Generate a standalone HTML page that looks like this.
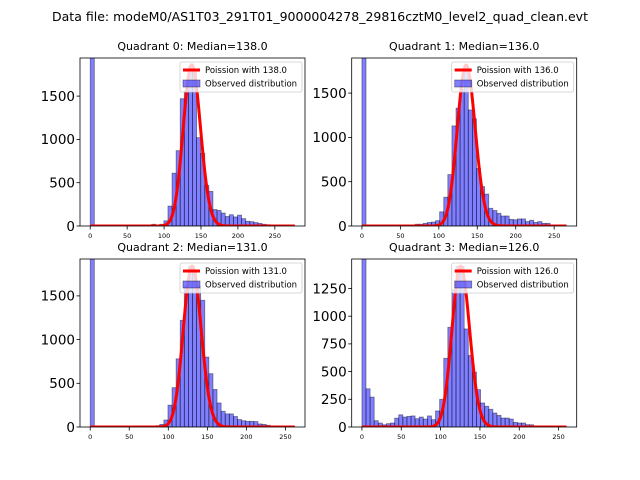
<!DOCTYPE html>
<html><head><meta charset="utf-8"><style>
html,body{margin:0;padding:0;background:#fff;}
svg{display:block;font-family:"DejaVu Sans","Liberation Sans",sans-serif;}
</style></head><body>
<svg id="fig" width="640" height="480" viewBox="0 0 640 480" xmlns="http://www.w3.org/2000/svg">
<rect width="640" height="480" fill="#fff"/>
<text x="320" y="21" font-size="12.5" text-anchor="middle" textLength="536" lengthAdjust="spacingAndGlyphs">Data file: modeM0/AS1T03_291T01_9000004278_29816cztM0_level2_quad_clean.evt</text>
</svg>
<script>
const titles = ["Quadrant 0: Median=138.0","Quadrant 1: Median=136.0","Quadrant 2: Median=131.0","Quadrant 3: Median=126.0"];
const medians = [138, 136, 131, 126];
const dataMax = [277, 266, 262, 260];
const curvePeak = [1860, 1816, 1840, 1450];
const yTop = [1940, 1896, 1922, 1516];
const q0Counts = [5000,0,0,0,0,0,0,0,0,0,0,0,0,0,10,20,10,20,60,230,610,870,1470,1560,1840,1800,1020,840,470,400,190,180,150,110,130,105,125,85,55,50,40,30,20,15,10,5,5,3,2,1];
const q1Counts = [5000,0,0,0,0,0,0,0,0,0,5,8,10,20,20,30,40,45,60,160,325,580,1130,1330,1540,1740,1310,1210,650,445,360,200,175,143,113,113,75,70,80,80,50,65,40,50,30,30,10,5,3,2];
const q2Counts = [5000,0,0,0,0,0,0,0,0,0,0,0,0,0,0,0,15,30,80,250,450,780,1220,1610,1840,1800,1610,1450,800,610,430,275,180,150,150,120,85,72,65,65,62,35,30,20,5,3,2,1,1,1];
const q3Counts = [5000,345,270,57,36,20,30,36,80,110,90,96,100,75,90,72,100,66,145,250,620,900,1240,1450,1450,885,645,495,337,217,187,160,126,105,81,81,72,42,36,36,21,20,10,8,5,4,3,2,1,1];
const countsAll = [q0Counts, q1Counts, q2Counts, q3Counts];
const xTicks = [0,50,100,150,200,250];
const yTicksA = [0,500,1000,1500];
const yTicksB = [0,250,500,750,1000,1250];
const yTicksAll = [yTicksA, yTicksA, yTicksA, yTicksB];

const NS = "http://www.w3.org/2000/svg";
const svg = document.getElementById('fig');
const boxes = [[80,58,305,226],[351.7,58,576.7,226],[80,259,305,427],[351.7,259,576.7,427]];
function mk(tag, attrs, parent){const e=document.createElementNS(NS,tag);for(const k in attrs)e.setAttribute(k,attrs[k]);(parent||svg).appendChild(e);return e;}
function lgamma(n){let s=0;for(let i=2;i<=n;i++)s+=Math.log(i);return s;}

for(let q=0;q<4;q++){
  const [L,T,R,B]=boxes[q];
  const mx=dataMax[q];
  const x0=-0.05*mx, x1=1.05*mx;
  const sx=v=>L+(v-x0)/(x1-x0)*(R-L);
  const sy=v=>B-v/yTop[q]*(B-T);
  const g=mk('g',{});
  
  
  const cid='clip'+q;
  const cp=mk('clipPath',{id:cid},g);mk('rect',{x:L,y:T,width:R-L,height:B-T},cp);
  const plot=mk('g',{'clip-path':'url(#'+cid+')'},g);
  const counts=countsAll[q];
  const bw=mx/counts.length;
  counts.forEach((c,i)=>{
    if(c<=0)return;
    const r=mk('rect',{x:sx(i*bw),y:sy(c),width:sx((i+1)*bw)-sx(i*bw),height:sy(0)-sy(c),fill:'rgba(0,0,255,0.5)',stroke:'rgba(0,0,0,0.45)','stroke-width':0.8},plot);
    
    
  });
  const lam=medians[q];
  const pk=Math.exp(lam*Math.log(lam)-lam-lgamma(lam));
  let d='';
  for(let k=0;k<=Math.floor(mx);k++){
    const p=Math.exp(k*Math.log(lam||1)-lam-lgamma(k))/pk*curvePeak[q];
    d+=(k?'L':'M')+sx(k).toFixed(2)+','+sy(p).toFixed(2);
  }
  const ln=mk('path',{d:d,fill:'none',stroke:'#ff0000','stroke-width':3,'stroke-linejoin':'round'},plot);
  
  
  mk('rect',{x:L,y:T,width:R-L,height:B-T,fill:'none',stroke:'#000','stroke-width':0.8},g);
  xTicks.forEach(t=>{
    const X=sx(t);
    mk('line',{x1:X,y1:B,x2:X,y2:B+3.5,stroke:'#000','stroke-width':0.8},g);
    const tx=mk('text',{x:X,y:B+12,'font-size':6.5,'text-anchor':'middle'},g);tx.textContent=t;
    
    
  });
  yTicksAll[q].forEach(t=>{
    const Y=sy(t);
    mk('line',{x1:L-3.5,y1:Y,x2:L,y2:Y,stroke:'#000','stroke-width':0.8},g);
    const tx=mk('text',{x:L-5,y:Y+4.8,'font-size':13.5,'text-anchor':'end'},g);tx.textContent=t;
    
    
  });
  const tt=mk('text',{x:(L+R)/2,y:T-8,'font-size':11,'text-anchor':'middle'},g);tt.textContent=titles[q];
  
  
  const lx=R-125, ly=T+4;
  const lg=mk('g',{},g);
  
  
  mk('rect',{x:lx,y:ly,width:122,height:30,rx:2,fill:'rgba(255,255,255,0.8)',stroke:'#ccc','stroke-width':0.8},lg);
  mk('line',{x1:lx+3,y1:ly+8,x2:lx+20,y2:ly+8,stroke:'#ff0000','stroke-width':3},lg);
  const t1=mk('text',{x:lx+25,y:ly+11,'font-size':8.5},lg);t1.textContent='Poission with '+medians[q].toFixed(1);
  mk('rect',{x:lx+3,y:ly+18,width:17,height:7,fill:'rgba(0,0,255,0.5)',stroke:'rgba(0,0,0,0.45)','stroke-width':0.8},lg);
  const t2=mk('text',{x:lx+25,y:ly+24.5,'font-size':8.5},lg);t2.textContent='Observed distribution';
}
</script>
</body></html>
